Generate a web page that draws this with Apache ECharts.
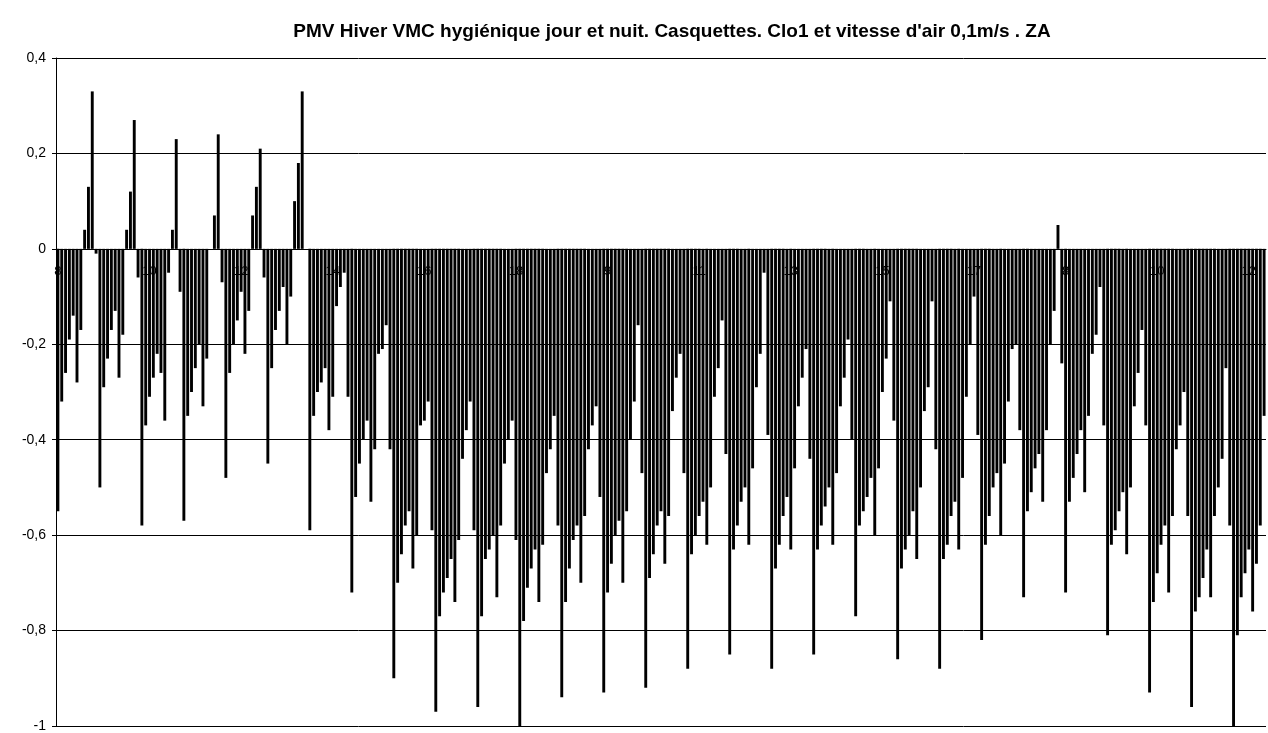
<!DOCTYPE html>
<html><head><meta charset="utf-8">
<script src="https://cdn.jsdelivr.net/npm/echarts@6/dist/echarts.min.js"></script>
<style>html,body{margin:0;padding:0;background:#fff}#c{width:1268px;height:733px}</style>
</head><body><div id="c"></div>
<script>
const title = "PMV Hiver VMC hygiénique jour et nuit. Casquettes. Clo1 et vitesse d'air 0,1m/s . ZA";
const hours = ['8','9','10','11','12','13','14','15','16','17','18'];
const day01 = [-0.55,-0.32,-0.26,-0.19,-0.14,-0.28,-0.17,0.04,0.13,0.33,-0.01];
const day02 = [-0.50,-0.29,-0.23,-0.17,-0.13,-0.27,-0.18,0.04,0.12,0.27,-0.06];
const day03 = [-0.58,-0.37,-0.31,-0.27,-0.22,-0.26,-0.36,-0.05,0.04,0.23,-0.09];
const day04 = [-0.57,-0.35,-0.30,-0.25,-0.20,-0.33,-0.23,0.00,0.07,0.24,-0.07];
const day05 = [-0.48,-0.26,-0.20,-0.15,-0.09,-0.22,-0.13,0.07,0.13,0.21,-0.06];
const day06 = [-0.45,-0.25,-0.17,-0.13,-0.08,-0.20,-0.10,0.10,0.18,0.33,0.00];
const day07 = [-0.59,-0.35,-0.30,-0.28,-0.25,-0.38,-0.31,-0.12,-0.08,-0.05,-0.31];
const day08 = [-0.72,-0.52,-0.45,-0.40,-0.36,-0.53,-0.42,-0.22,-0.21,-0.16,-0.42];
const day09 = [-0.90,-0.70,-0.64,-0.58,-0.55,-0.67,-0.60,-0.37,-0.36,-0.32,-0.59];
const day10 = [-0.97,-0.77,-0.72,-0.69,-0.65,-0.74,-0.61,-0.44,-0.38,-0.32,-0.59];
const day11 = [-0.96,-0.77,-0.65,-0.63,-0.60,-0.73,-0.58,-0.45,-0.40,-0.36,-0.61];
const day12 = [-1.00,-0.78,-0.71,-0.67,-0.63,-0.74,-0.62,-0.47,-0.42,-0.35,-0.58];
const day13 = [-0.94,-0.74,-0.67,-0.61,-0.58,-0.70,-0.56,-0.42,-0.37,-0.33,-0.52];
const day14 = [-0.93,-0.72,-0.66,-0.60,-0.57,-0.70,-0.55,-0.40,-0.32,-0.16,-0.47];
const day15 = [-0.92,-0.69,-0.64,-0.58,-0.55,-0.66,-0.56,-0.34,-0.27,-0.22,-0.47];
const day16 = [-0.88,-0.64,-0.60,-0.56,-0.53,-0.62,-0.50,-0.31,-0.25,-0.15,-0.43];
const day17 = [-0.85,-0.63,-0.58,-0.53,-0.50,-0.62,-0.46,-0.29,-0.22,-0.05,-0.39];
const day18 = [-0.88,-0.67,-0.62,-0.56,-0.52,-0.63,-0.46,-0.33,-0.27,-0.21,-0.44];
const day19 = [-0.85,-0.63,-0.58,-0.54,-0.50,-0.62,-0.47,-0.33,-0.27,-0.19,-0.40];
const day20 = [-0.77,-0.58,-0.55,-0.52,-0.48,-0.60,-0.46,-0.30,-0.23,-0.11,-0.36];
const day21 = [-0.86,-0.67,-0.63,-0.60,-0.55,-0.65,-0.50,-0.34,-0.29,-0.11,-0.42];
const day22 = [-0.88,-0.65,-0.62,-0.56,-0.53,-0.63,-0.48,-0.31,-0.20,-0.10,-0.39];
const day23 = [-0.82,-0.62,-0.56,-0.50,-0.47,-0.60,-0.45,-0.32,-0.21,-0.20,-0.38];
const day24 = [-0.73,-0.55,-0.51,-0.46,-0.43,-0.53,-0.38,-0.20,-0.13,0.05,-0.24];
const day25 = [-0.72,-0.53,-0.48,-0.43,-0.38,-0.51,-0.35,-0.22,-0.18,-0.08,-0.37];
const day26 = [-0.81,-0.62,-0.59,-0.55,-0.51,-0.64,-0.50,-0.33,-0.26,-0.17,-0.37];
const day27 = [-0.93,-0.74,-0.68,-0.62,-0.58,-0.72,-0.56,-0.42,-0.37,-0.30,-0.56];
const day28 = [-0.96,-0.76,-0.73,-0.69,-0.63,-0.73,-0.56,-0.50,-0.44,-0.25,-0.58];
const day29 = [-1.00,-0.81,-0.73,-0.68,-0.63,-0.76,-0.66,-0.58,-0.35];
const days = [day01,day02,day03,day04,day05,day06,day07,day08,day09,day10,day11,day12,day13,day14,day15,day16,day17,day18,day19,day20,day21,day22,day23,day24,day25,day26,day27,day28,day29];
const yTicks = {min:-1, max:0.4, step:0.2};

const values = [];
const categories = [];
days.forEach(d => d.forEach((v, k) => { values.push(v); categories.push(hours[k]); }));

const FONT = 'Liberation Sans, Arial, sans-serif';
const chart = echarts.init(document.getElementById('c'), null, {renderer:'canvas'});
chart.setOption({
  animation:false,
  backgroundColor:'#fff',
  title:{text:title, left:667, textAlign:'center', top:17,
    textStyle:{fontFamily:FONT, fontWeight:'bold', fontSize:19, color:'#000'}},
  grid:[
    {left:56, right:2, top:58, bottom:4, containLabel:false},
    {left:56, right:2, top:58, bottom:484, containLabel:false}
  ],
  xAxis:[
    {type:'category', data:categories, gridIndex:0,
      axisLine:{show:false}, axisTick:{show:false}, axisLabel:{show:false}, splitLine:{show:false}},
    {type:'category', data:categories, gridIndex:1, position:'bottom', z:10,
      axisLine:{show:true, lineStyle:{color:'#000', width:1}},
      axisTick:{show:false},
      axisLabel:{interval:23, color:'#000', fontFamily:FONT, fontSize:13, margin:16},
      splitLine:{show:false}}
  ],
  yAxis:[
    {type:'value', gridIndex:0, min:yTicks.min, max:yTicks.max, interval:yTicks.step,
      axisLine:{show:true, lineStyle:{color:'#000'}},
      axisTick:{show:true, length:4, lineStyle:{color:'#000'}},
      axisLabel:{color:'#000', fontFamily:FONT, fontSize:14, margin:10,
        formatter: v => String(Math.round(v*10)/10).replace('.', ',')},
      splitLine:{show:true, lineStyle:{color:'#000', width:1}}},
    {type:'value', gridIndex:1, min:0, max:1, show:false}
  ],
  series:[{type:'bar', xAxisIndex:0, yAxisIndex:0, data:values, barWidth:'76%',
    itemStyle:{color:'#000'}}]
});
</script></body></html>
